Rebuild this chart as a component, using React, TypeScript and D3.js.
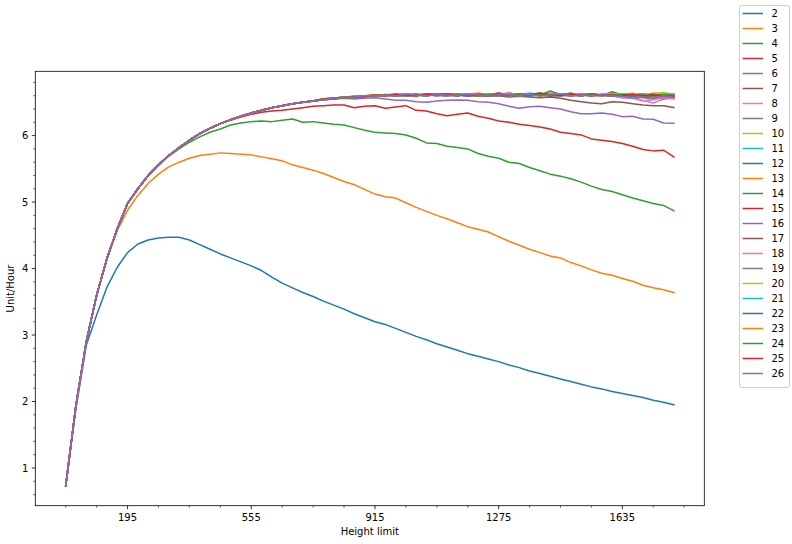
import React from "react";
import * as d3 from "d3";

// ---------- data ----------
const heights = [
  15, 45, 75, 105, 135, 165, 195, 225, 255, 285,
  315, 345, 375, 405, 435, 465, 495, 525, 555, 585,
  615, 645, 675, 705, 735, 765, 795, 825, 855, 885,
  915, 945, 975, 1005, 1035, 1065, 1095, 1125, 1155, 1185,
  1215, 1245, 1275, 1305, 1335, 1365, 1395, 1425, 1455, 1485,
  1515, 1545, 1575, 1605, 1635, 1665, 1695, 1725, 1755, 1785,
];

const xMajorTicks = [195, 555, 915, 1275, 1635];
const yMajorTicks = [1, 2, 3, 4, 5, 6];

// common rising part shared by the overlapping series
const riseShared = [
  0.73, 1.95, 2.9, 3.6, 4.15,
  4.6, 4.98, 5.2, 5.4, 5.56,
  5.7, 5.82, 5.93, 6.03, 6.11,
  6.18, 6.24, 6.29, 6.34, 6.38,
  6.42, 6.45, 6.48, 6.5, 6.52,
  6.54, 6.55, 6.56, 6.57, 6.58,
];

const s2 = [
  0.73, 1.9, 2.85, 3.3, 3.72,
  4.02, 4.24, 4.37, 4.43, 4.46,
  4.47, 4.47, 4.43, 4.36, 4.29,
  4.22, 4.16, 4.1, 4.04, 3.97,
  3.87, 3.78, 3.71, 3.64, 3.58,
  3.51, 3.45, 3.39, 3.32, 3.26,
  3.2, 3.16, 3.1, 3.04, 2.98,
  2.93, 2.87, 2.82, 2.77, 2.72,
  2.68, 2.64, 2.6, 2.55, 2.51,
  2.46, 2.42, 2.38, 2.34, 2.3,
  2.26, 2.22, 2.19, 2.15, 2.12,
  2.09, 2.06, 2.02, 1.99, 1.95,
];
const s3 = [
  0.73, 1.95, 2.9, 3.6, 4.15,
  4.57, 4.88, 5.1, 5.28, 5.42,
  5.53, 5.6, 5.66, 5.7, 5.72,
  5.74, 5.73, 5.72, 5.71, 5.68,
  5.65, 5.62, 5.56, 5.52, 5.48,
  5.43, 5.37, 5.31, 5.26, 5.19,
  5.12, 5.08, 5.06, 4.99, 4.92,
  4.86, 4.8, 4.75, 4.69, 4.63,
  4.59, 4.55, 4.48, 4.41, 4.35,
  4.29, 4.24, 4.19, 4.16, 4.09,
  4.04, 3.98, 3.93, 3.9, 3.85,
  3.81, 3.75, 3.71, 3.68, 3.64,
];
const t4 = [
  5.69, 5.8, 5.9, 5.98, 6.05,
  6.1, 6.16, 6.19, 6.21, 6.22,
  6.21, 6.23, 6.25, 6.2, 6.21,
  6.19, 6.17, 6.16, 6.12, 6.08,
  6.05, 6.04, 6.03, 6.01, 5.96,
  5.89, 5.88, 5.84, 5.82, 5.8,
  5.73, 5.69, 5.66, 5.6, 5.58,
  5.52, 5.47, 5.42, 5.39, 5.35,
  5.3, 5.24, 5.19, 5.16, 5.11,
  5.06, 5.02, 4.98, 4.95, 4.87,
];
const t5 = [
  6.23, 6.28, 6.32, 6.35,
  6.37, 6.38, 6.4, 6.42, 6.44,
  6.45, 6.46, 6.46, 6.42, 6.44,
  6.45, 6.41, 6.43, 6.45, 6.38,
  6.37, 6.33, 6.3, 6.32, 6.34,
  6.29, 6.26, 6.22, 6.2, 6.17,
  6.15, 6.13, 6.1, 6.05, 6.03,
  6.01, 5.95, 5.93, 5.91, 5.88,
  5.84, 5.79, 5.77, 5.78, 5.68,
];
const t6 = [
  6.54, 6.55, 6.56, 6.55, 6.56,
  6.57, 6.55, 6.53, 6.53, 6.51,
  6.5, 6.52, 6.53, 6.535, 6.53,
  6.51, 6.5, 6.48, 6.44, 6.41,
  6.435, 6.44, 6.42, 6.4, 6.36,
  6.33, 6.33, 6.34, 6.32, 6.285,
  6.29, 6.25, 6.245, 6.19, 6.185,
];
const t7 = [
  6.55, 6.56, 6.57, 6.58, 6.59,
  6.6, 6.61, 6.6, 6.59, 6.61,
  6.6, 6.62, 6.6, 6.61, 6.59,
  6.6, 6.59, 6.6, 6.58, 6.59,
  6.58, 6.57, 6.58, 6.56, 6.53,
  6.51, 6.49, 6.48, 6.51, 6.5,
  6.48, 6.46, 6.45, 6.45, 6.42,
];
const t8 = [6.54, 6.56, 6.57, 6.57, 6.58, 6.6, 6.59, 6.61, 6.6, 6.62, 6.6, 6.61, 6.59, 6.62, 6.61, 6.6, 6.62, 6.6, 6.61, 6.63, 6.6, 6.61, 6.59, 6.6, 6.62, 6.6, 6.61, 6.59, 6.6, 6.57, 6.58, 6.53, 6.49, 6.55, 6.56];
const t9 = [6.55, 6.56, 6.58, 6.57, 6.59, 6.6, 6.61, 6.6, 6.62, 6.61, 6.63, 6.6, 6.62, 6.61, 6.6, 6.62, 6.63, 6.61, 6.6, 6.62, 6.61, 6.63, 6.6, 6.61, 6.6, 6.62, 6.6, 6.61, 6.63, 6.6, 6.61, 6.6, 6.62, 6.6, 6.59];
const t10 = [6.54, 6.55, 6.57, 6.58, 6.58, 6.59, 6.61, 6.62, 6.6, 6.61, 6.62, 6.6, 6.63, 6.61, 6.62, 6.6, 6.61, 6.64, 6.62, 6.6, 6.63, 6.61, 6.62, 6.6, 6.61, 6.63, 6.62, 6.6, 6.61, 6.62, 6.64, 6.6, 6.63, 6.65, 6.62];
const t11 = [6.55, 6.56, 6.57, 6.59, 6.58, 6.6, 6.6, 6.62, 6.61, 6.6, 6.62, 6.61, 6.6, 6.63, 6.6, 6.61, 6.62, 6.6, 6.63, 6.62, 6.64, 6.61, 6.6, 6.62, 6.6, 6.61, 6.63, 6.6, 6.62, 6.61, 6.6, 6.62, 6.61, 6.6, 6.61];
const t12 = [6.54, 6.56, 6.56, 6.58, 6.59, 6.6, 6.61, 6.6, 6.61, 6.63, 6.6, 6.62, 6.61, 6.6, 6.62, 6.61, 6.6, 6.62, 6.64, 6.61, 6.6, 6.62, 6.61, 6.63, 6.6, 6.62, 6.6, 6.61, 6.6, 6.62, 6.61, 6.59, 6.62, 6.6, 6.58];
const t13 = [6.55, 6.57, 6.56, 6.58, 6.6, 6.59, 6.61, 6.62, 6.6, 6.61, 6.6, 6.63, 6.61, 6.6, 6.62, 6.64, 6.61, 6.6, 6.63, 6.6, 6.62, 6.6, 6.64, 6.61, 6.63, 6.6, 6.62, 6.61, 6.6, 6.63, 6.62, 6.6, 6.61, 6.63, 6.6];
const t14 = [6.54, 6.56, 6.58, 6.57, 6.59, 6.61, 6.6, 6.61, 6.63, 6.6, 6.62, 6.61, 6.6, 6.62, 6.61, 6.63, 6.6, 6.62, 6.61, 6.6, 6.62, 6.61, 6.67, 6.62, 6.6, 6.61, 6.63, 6.6, 6.66, 6.61, 6.62, 6.6, 6.58, 6.55, 6.6];
const t15 = [6.55, 6.56, 6.57, 6.58, 6.59, 6.6, 6.62, 6.6, 6.61, 6.6, 6.62, 6.63, 6.61, 6.6, 6.62, 6.6, 6.61, 6.64, 6.6, 6.62, 6.61, 6.63, 6.6, 6.61, 6.6, 6.62, 6.6, 6.61, 6.62, 6.6, 6.61, 6.63, 6.6, 6.62, 6.59];
const t16 = [6.54, 6.55, 6.57, 6.58, 6.58, 6.6, 6.61, 6.59, 6.62, 6.6, 6.61, 6.6, 6.62, 6.61, 6.63, 6.6, 6.62, 6.6, 6.61, 6.63, 6.6, 6.61, 6.62, 6.6, 6.61, 6.6, 6.62, 6.61, 6.6, 6.58, 6.59, 6.57, 6.55, 6.58, 6.57];
const t17 = [6.55, 6.56, 6.58, 6.59, 6.6, 6.61, 6.6, 6.62, 6.61, 6.6, 6.63, 6.61, 6.6, 6.62, 6.61, 6.6, 6.62, 6.61, 6.63, 6.6, 6.62, 6.61, 6.6, 6.62, 6.61, 6.6, 6.63, 6.61, 6.6, 6.62, 6.6, 6.61, 6.59, 6.6, 6.6];
const t18 = [6.54, 6.56, 6.57, 6.58, 6.6, 6.6, 6.61, 6.6, 6.62, 6.61, 6.6, 6.62, 6.6, 6.61, 6.63, 6.61, 6.6, 6.62, 6.6, 6.61, 6.63, 6.6, 6.61, 6.62, 6.6, 6.61, 6.6, 6.62, 6.6, 6.57, 6.56, 6.52, 6.54, 6.57, 6.55];
const t19 = [6.55, 6.57, 6.57, 6.58, 6.59, 6.61, 6.6, 6.62, 6.6, 6.61, 6.62, 6.6, 6.61, 6.63, 6.6, 6.62, 6.61, 6.6, 6.62, 6.63, 6.61, 6.6, 6.62, 6.61, 6.6, 6.63, 6.61, 6.6, 6.62, 6.6, 6.61, 6.62, 6.6, 6.61, 6.62];
const t20 = [6.54, 6.56, 6.58, 6.58, 6.59, 6.6, 6.62, 6.61, 6.6, 6.62, 6.61, 6.63, 6.6, 6.62, 6.61, 6.6, 6.63, 6.61, 6.62, 6.6, 6.61, 6.63, 6.62, 6.6, 6.62, 6.61, 6.6, 6.62, 6.63, 6.61, 6.62, 6.6, 6.64, 6.63, 6.61];
const t21 = [6.55, 6.56, 6.57, 6.59, 6.6, 6.6, 6.61, 6.6, 6.62, 6.61, 6.6, 6.62, 6.61, 6.6, 6.62, 6.63, 6.6, 6.61, 6.62, 6.6, 6.61, 6.64, 6.61, 6.6, 6.62, 6.6, 6.61, 6.62, 6.6, 6.61, 6.6, 6.62, 6.6, 6.61, 6.6];
const t22 = [6.54, 6.55, 6.57, 6.58, 6.59, 6.6, 6.61, 6.62, 6.6, 6.61, 6.6, 6.62, 6.63, 6.61, 6.6, 6.62, 6.61, 6.6, 6.62, 6.61, 6.6, 6.62, 6.6, 6.63, 6.61, 6.6, 6.62, 6.61, 6.6, 6.62, 6.6, 6.61, 6.62, 6.6, 6.61];
const t23 = [6.55, 6.57, 6.57, 6.58, 6.6, 6.61, 6.6, 6.61, 6.62, 6.6, 6.62, 6.6, 6.61, 6.63, 6.61, 6.6, 6.62, 6.6, 6.64, 6.61, 6.62, 6.6, 6.61, 6.63, 6.6, 6.62, 6.61, 6.6, 6.63, 6.62, 6.61, 6.63, 6.6, 6.62, 6.63];
const t24 = [6.54, 6.56, 6.58, 6.57, 6.59, 6.6, 6.61, 6.6, 6.62, 6.61, 6.61, 6.63, 6.6, 6.62, 6.61, 6.6, 6.62, 6.61, 6.6, 6.63, 6.61, 6.62, 6.6, 6.61, 6.64, 6.6, 6.62, 6.61, 6.6, 6.62, 6.6, 6.61, 6.6, 6.62, 6.6];
const t25 = [6.55, 6.56, 6.57, 6.58, 6.59, 6.61, 6.6, 6.62, 6.61, 6.6, 6.62, 6.61, 6.63, 6.6, 6.62, 6.61, 6.6, 6.62, 6.61, 6.6, 6.62, 6.64, 6.61, 6.6, 6.62, 6.61, 6.6, 6.62, 6.61, 6.6, 6.62, 6.6, 6.61, 6.6, 6.59];
const t26 = [6.54, 6.56, 6.57, 6.58, 6.6, 6.6, 6.61, 6.6, 6.62, 6.61, 6.6, 6.62, 6.61, 6.6, 6.63, 6.61, 6.6, 6.62, 6.61, 6.6, 6.62, 6.6, 6.61, 6.63, 6.6, 6.61, 6.6, 6.62, 6.6, 6.59, 6.56, 6.58, 6.56, 6.6, 6.58];

const seriesLabels = ["2", "3", "4", "5", "6", "7", "8", "9", "10", "11", "12", "13", "14", "15", "16", "17", "18", "19", "20", "21", "22", "23", "24", "25", "26"];
const seriesTails = [s2, s3, t4, t5, t6, t7, t8, t9, t10, t11, t12, t13, t14, t15, t16, t17, t18, t19, t20, t21, t22, t23, t24, t25, t26];

const palette = ["#1f77b4", "#ff7f0e", "#2ca02c", "#d62728", "#9467bd", "#8c564b", "#e377c2", "#7f7f7f", "#bcbd22", "#17becf"];

function buildSeries(tail: number[]): number[] {
  const start = heights.length - tail.length;
  return heights.map((_, i) => (i < start ? riseShared[i] : tail[i - start]));
}

// ---------- layout ----------
const W = 792;
const H = 544;
const L = 35.3, R = 704.3, T = 71.3, B = 505.7;
const FONT = "DejaVu Sans";

export default function App() {
  const series = seriesTails.map(buildSeries);
  const allVals = series.flat();
  const [xmin, xmax] = d3.extent(heights) as [number, number];
  const [ymin, ymax] = d3.extent(allVals) as [number, number];
  const xp = (xmax - xmin) * 0.05;
  const yp = (ymax - ymin) * 0.05;
  const x = d3.scaleLinear().domain([xmin - xp, xmax + xp]).range([L, R]);
  const y = d3.scaleLinear().domain([ymin - yp, ymax + yp]).range([B, T]);

  const line = d3
    .line<number>()
    .x((_, i) => x(heights[i]))
    .y((d) => y(d));

  const [dx0, dx1] = x.domain();
  const xMinor: number[] = [];
  for (let v = 15 - 90 * 2; v <= dx1; v += 90) {
    if (v >= dx0 && !xMajorTicks.includes(v)) xMinor.push(v);
  }
  const [dy0, dy1] = y.domain();
  const yMinor: number[] = [];
  for (let k = Math.ceil(dy0 * 5); k <= Math.floor(dy1 * 5); k++) {
    if (k % 5 !== 0) yMinor.push(k / 5);
  }

  const legX = 739.5, legY = 5.5, legW = 50, legRowH = 15;
  const legH = seriesLabels.length * legRowH + 7;

  return (
    <svg
      width={W}
      height={H}
      style={{ position: "absolute", left: 0, top: 0, background: "#fff" }}
      fontFamily={FONT}
    >
      <rect x={0} y={0} width={W} height={H} fill="#fff" />
      <defs>
        <clipPath id="plotclip">
          <rect x={L} y={T} width={R - L} height={B - T} />
        </clipPath>
      </defs>
      <g clipPath="url(#plotclip)">
        {series.map((s, k) => (
          <path
            key={k}
            d={line(s) || ""}
            fill="none"
            stroke={palette[k % 10]}
            strokeWidth={1.5}
            strokeLinejoin="round"
            strokeLinecap="square"
          />
        ))}
      </g>
      {/* spines */}
      <rect x={L} y={T} width={R - L} height={B - T} fill="none" stroke="#000" strokeWidth={0.8} />
      {/* x ticks */}
      {xMajorTicks.map((v) => (
        <g key={"xt" + v}>
          <line x1={x(v)} x2={x(v)} y1={B} y2={B + 3.5} stroke="#000" strokeWidth={0.8} />
          <text x={x(v)} y={B + 15} fontSize={10} textAnchor="middle" fill="#000">
            {v}
          </text>
        </g>
      ))}
      {xMinor.map((v) => (
        <line key={"xm" + v} x1={x(v)} x2={x(v)} y1={B} y2={B + 2} stroke="#000" strokeWidth={0.6} />
      ))}
      {/* y ticks */}
      {yMajorTicks.map((v) => (
        <g key={"yt" + v}>
          <line x1={L - 3.5} x2={L} y1={y(v)} y2={y(v)} stroke="#000" strokeWidth={0.8} />
          <text x={L - 7} y={y(v) + 3.6} fontSize={10} textAnchor="end" fill="#000">
            {v}
          </text>
        </g>
      ))}
      {yMinor.map((v) => (
        <line key={"ym" + v} x1={L - 2} x2={L} y1={y(v)} y2={y(v)} stroke="#000" strokeWidth={0.6} />
      ))}
      {/* axis labels */}
      <text x={(L + R) / 2} y={535} fontSize={10} textAnchor="middle" fill="#000">
        Height limit
      </text>
      <text
        transform={`translate(13.5, ${(T + B) / 2}) rotate(-90)`}
        fontSize={10}
        textAnchor="middle"
        fill="#000"
      >
        Unit/Hour
      </text>
      {/* legend */}
      <rect
        x={legX}
        y={legY}
        width={legW}
        height={legH}
        rx={2}
        fill="#fff"
        fillOpacity={0.8}
        stroke="#cccccc"
        strokeWidth={1}
      />
      {seriesLabels.map((lab, k) => {
        const cy = legY + 8 + k * legRowH;
        return (
          <g key={"lg" + lab}>
            <line x1={742.5} x2={763} y1={cy} y2={cy} stroke={palette[k % 10]} strokeWidth={1.5} />
            <text x={771.5} y={cy + 3.6} fontSize={10} fill="#000">
              {lab}
            </text>
          </g>
        );
      })}
    </svg>
  );
}
